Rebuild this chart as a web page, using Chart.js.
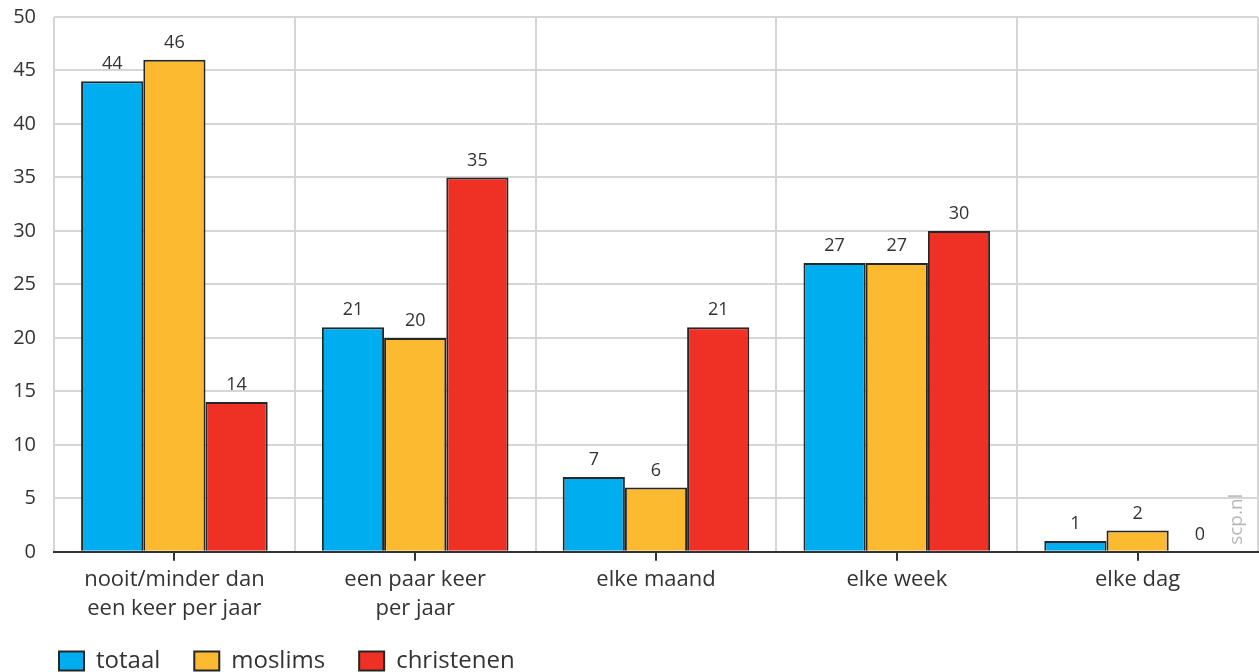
<!DOCTYPE html>
<html>
<head>
<meta charset="utf-8">
<script src="https://cdn.jsdelivr.net/npm/chart.js@4"></script>
<style>
  html, body { margin: 0; padding: 0; background: #fff; }
  #wrap { width: 1259px; height: 672px; }
</style>
</head>
<body>
<div id="wrap"><canvas id="chartCanvas"></canvas></div>
<script>
const categories = [
  ['nooit/minder dan', 'een keer per jaar'],
  ['een paar keer', 'per jaar'],
  'elke maand',
  'elke week',
  'elke dag'
];
const totaal = [44, 21, 7, 27, 1];
const moslims = [46, 20, 6, 27, 2];
const christenen = [14, 35, 21, 30, 0];

const FONT = '"Open Sans", "Noto Sans", sans-serif';
const TEXT = '#333333';

// value labels above each bar
const valueLabels = {
  id: 'valueLabels',
  afterDatasetsDraw(chart) {
    const ctx = chart.ctx;
    ctx.save();
    ctx.font = '18px ' + FONT;
    ctx.fillStyle = TEXT;
    ctx.textAlign = 'center';
    ctx.textBaseline = 'bottom';
    chart.data.datasets.forEach((ds, i) => {
      chart.getDatasetMeta(i).data.forEach((bar, j) => {
        ctx.fillText(ds.data[j], bar.x, bar.y - 8);
      });
    });
    ctx.restore();
  }
};

// move legend to line up with the plot, tick marks at category centres, source text
const extras = {
  id: 'extras',
  afterLayout(chart) {
    const lg = chart.legend;
    lg.left += 25;
    lg.right += 25;
    lg.top -= 22;
    lg.bottom -= 22;
  },
  afterDraw(chart) {
    const ctx = chart.ctx;
    const x = chart.scales.x;
    const area = chart.chartArea;
    ctx.save();
    ctx.strokeStyle = TEXT;
    ctx.lineWidth = 2;
    categories.forEach((c, i) => {
      const px = Math.round(x.getPixelForValue(i));
      ctx.beginPath();
      ctx.moveTo(px, area.bottom);
      ctx.lineTo(px, area.bottom + 9);
      ctx.stroke();
    });
    ctx.translate(1237, area.bottom - 7);
    ctx.rotate(-Math.PI / 2);
    ctx.font = '19px ' + FONT;
    ctx.fillStyle = '#b8b8b8';
    ctx.textAlign = 'left';
    ctx.textBaseline = 'middle';
    ctx.fillText('scp.nl', 0, 0);
    ctx.restore();
  }
};

new Chart(document.getElementById('chartCanvas'), {
  type: 'bar',
  data: {
    labels: categories,
    datasets: [
      { label: 'totaal', data: totaal, backgroundColor: '#00aeef' },
      { label: 'moslims', data: moslims, backgroundColor: '#fbba30' },
      { label: 'christenen', data: christenen, backgroundColor: '#ee3124' }
    ].map(d => Object.assign(d, { borderColor: '#262626', borderWidth: 2 }))
  },
  options: {
    responsive: true,
    maintainAspectRatio: false,
    animation: false,
    devicePixelRatio: 1,
    layout: { padding: { top: 17, right: 1, left: 0, bottom: -33 } },
    datasets: { bar: { categoryPercentage: 0.775, barPercentage: 1 } },
    plugins: {
      legend: {
        position: 'bottom',
        align: 'start',
        labels: {
          boxWidth: 25,
          boxHeight: 19,
          padding: 34,
          color: TEXT,
          font: { family: FONT, size: 24 }
        }
      },
      tooltip: { enabled: false }
    },
    scales: {
      x: {
        grid: { color: '#d6d6d6', lineWidth: 2, offset: true, drawTicks: false },
        border: { color: TEXT, width: 2 },
        ticks: { color: TEXT, font: { family: FONT, size: 22, lineHeight: 1.3 }, padding: 14, maxRotation: 0 }
      },
      y: {
        min: 0,
        max: 50,
        afterFit(scale) {
          scale.width = 54;
          scale.paddingTop = 0;
        },
        grid: { color: '#d6d6d6', lineWidth: 2, drawTicks: false },
        border: { display: false },
        ticks: { stepSize: 5, color: TEXT, font: { family: FONT, size: 20 }, padding: 18 }
      }
    }
  },
  plugins: [valueLabels, extras]
});
</script>
</body>
</html>
